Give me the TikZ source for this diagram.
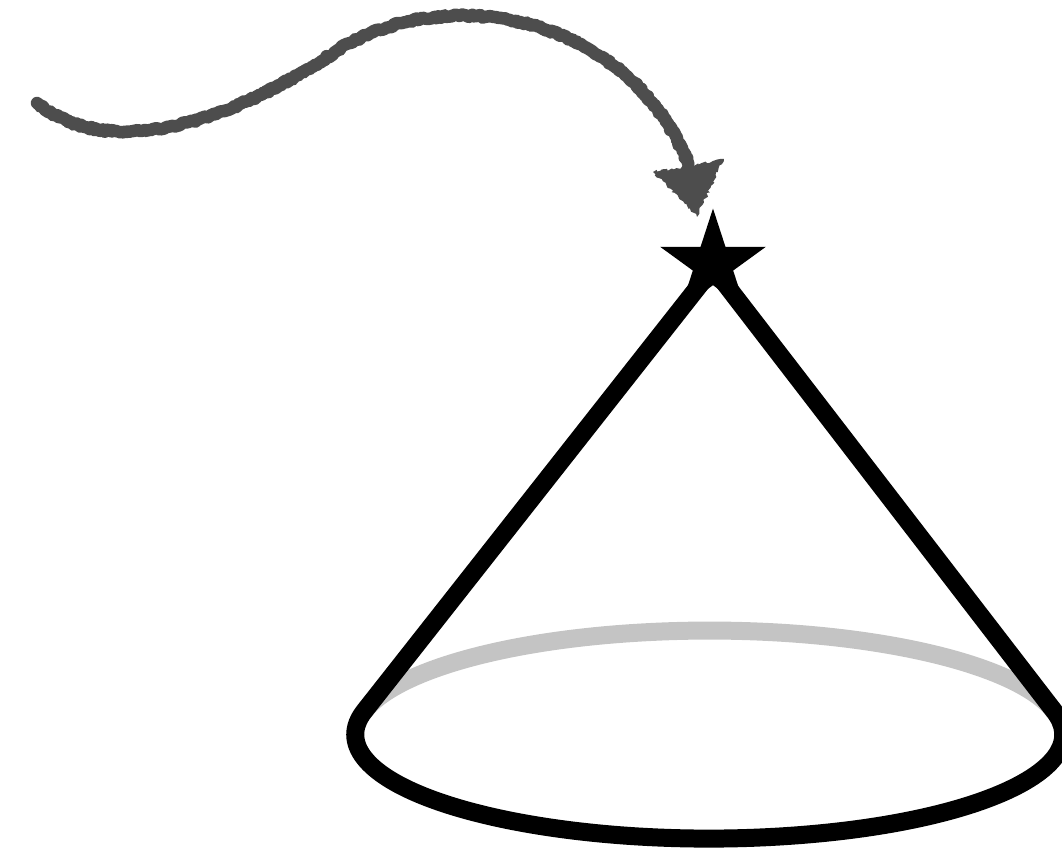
\documentclass[tikz,border=0pt]{standalone}
\usepackage{xcolor}
\usepackage{tikz}
\usetikzlibrary{shapes.geometric,decorations.pathmorphing}
\definecolor{pencilgray}{RGB}{77,77,77}
\definecolor{backgray}{RGB}{196,196,196}

\begin{document}
\begin{tikzpicture}[x=0.02cm, y=-0.02cm,
  cone/.style={line width=0.36cm, black, line join=round, line cap=round},
  hidden/.style={line width=0.36cm, backgray},
  pencil/.style={pencilgray, line width=0.25cm, line cap=round, line join=round,
                 decorate, decoration={random steps, segment length=1.2pt, amplitude=0.7pt}},
  apexstar/.style={star, star points=5, star point ratio=2.618, fill=black,
                   minimum size=2.22cm, inner sep=0pt, draw=none}
]
\useasboundingbox (0,0) rectangle (1062,852);

\coordinate (top) at (713,268);
\coordinate (R) at (1054,711);
\coordinate (tail) at (37,103);
\coordinate (tip) at (688,163);

% back half of the base
\draw[hidden] (R) arc[start angle=-13.1, end angle=-166.9, x radius=354, y radius=104];
% sides and front half
\draw[cone] (top) -- (R) arc[start angle=-13.1, end angle=193.1, x radius=354, y radius=104] -- cycle;
\node[apexstar] (apex) at (713,264) {};

% pencil arrow
\draw[pencil] (tail) .. controls (110,162) and (230,122) .. (335,52)
                     .. controls (440,-18) and (625,10) .. (tip);
\fill[pencilgray, line join=round, decorate, decoration={random steps, segment length=1.5pt, amplitude=0.9pt}]
  (653,172) -- (724,159) -- (697,217) -- cycle;
\end{tikzpicture}
\end{document}
